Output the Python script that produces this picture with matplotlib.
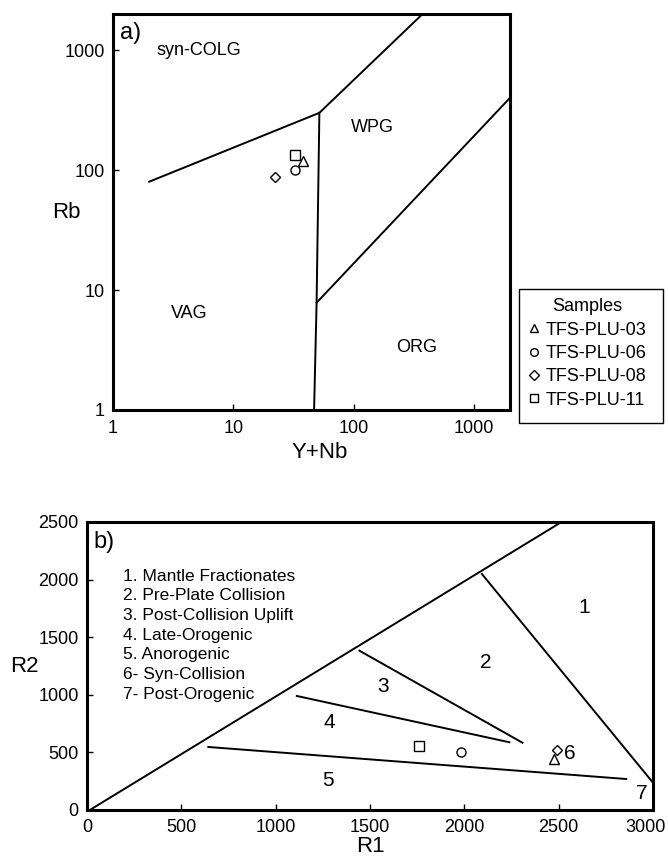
import matplotlib
matplotlib.use('Agg')
import matplotlib.pyplot as plt
import matplotlib.transforms as mtransforms
from matplotlib.patches import Rectangle
from matplotlib.ticker import FixedLocator, NullLocator

plt.rcParams['font.family'] = ['Liberation Sans', 'DejaVu Sans']

# samples, (Y+Nb, Rb) for panel a and (R1, R2) for panel b
samples = ['TFS-PLU-03', 'TFS-PLU-06', 'TFS-PLU-08', 'TFS-PLU-11']
markers = ['^', 'o', 'D', 's']
ynb = [38.2, 32.8, 22.4, 32.8]
rb = [119.6, 101, 88, 133]
r1 = [2474, 1981, 2490, 1762]
r2 = [440, 506, 521, 558]

# Pearce et al. discrimination boundaries (panel a)
pearce_lines = [
    ([2, 52, 375], [80, 300, 2000]),
    ([52, 49.3, 47], [300, 7.84, 1]),
    ([49.3, 2000], [7.84, 400]),
]
pearce_labels = [('syn-COLG', 2.32, 1000, 'left'),
                 ('WPG', 142.6, 228, 'center'),
                 ('VAG', 4.34, 6.43, 'center'),
                 ('ORG', 336.6, 3.29, 'center')]

# Batchelor & Bowden boundaries (panel b)
bb_lines = [
    ([15, 2515], [0, 2500]),
    ([2093, 3000], [2049, 237]),
    ([1444, 2308], [1383, 584]),
    ([1112, 2239], [990, 588]),
    ([643, 2858], [547, 269]),
]
bb_nums = [('1', 2637, 1760), ('2', 2116, 1279), ('3', 1568, 1076),
           ('4', 1283, 761), ('5', 1276, 260), ('6', 2557, 492),
           ('7', 2941, 145)]
bb_key = ['1. Mantle Fractionates', '2. Pre-Plate Collision',
          '3. Post-Collision Uplift', '4. Late-Orogenic', '5. Anorogenic',
          '6- Syn-Collision', '7- Post-Orogenic']

fig = plt.figure(figsize=(6.68, 8.57), dpi=100)

# ---- panel a
ax1 = fig.add_axes([113/668, 1-410/857, 397/668, 396/857])
ax1.set_xscale('log')
ax1.set_yscale('log')
ax1.set_xlim(1, 2000)
ax1.set_ylim(1, 2000)
for xs, ys in pearce_lines:
    ax1.plot(xs, ys, color='black', lw=1.4)
for s, m, x, y in zip(samples, markers, ynb, rb):
    ms = 5.5 if m == 'D' else 6.5
    ax1.plot([x], [y], linestyle='none', marker=m, ms=ms, mfc='white',
             mec='black', mew=1.0)
for txt, x, y, ha in pearce_labels:
    ax1.text(x, y, txt, ha=ha, va='center', fontsize=13)
ax1.text(1.14, 1383, 'a)', ha='left', va='center', fontsize=17)
ticks = [1, 10, 100, 1000]
ax1.xaxis.set_major_locator(FixedLocator(ticks))
ax1.yaxis.set_major_locator(FixedLocator(ticks))
ax1.xaxis.set_minor_locator(NullLocator())
ax1.yaxis.set_minor_locator(NullLocator())
ax1.set_xticklabels([str(t) for t in ticks])
ax1.set_yticklabels([str(t) for t in ticks])
ax1.tick_params(axis='x', direction='in', length=4, width=1, pad=7.5, labelsize=13)
ax1.tick_params(axis='y', direction='in', length=4, width=1, pad=6, labelsize=13)
ax1.set_xlabel('Y+Nb', fontsize=16)
ax1.set_ylabel('Rb', fontsize=16, rotation=0, ha='center', va='center')
ax1.xaxis.set_label_coords(0.52, -0.08)
ax1.yaxis.set_label_coords(-0.118, 0.5)
for sp in ax1.spines.values():
    sp.set_linewidth(2.2)

# legend for the samples, box drawn separately
handles = [plt.Line2D([], [], linestyle='none', marker=m,
                      ms=5 if m == 'D' else 5.5, mfc='white', mec='black',
                      mew=1.0, label=s) for s, m in zip(samples, markers)]
fig.legend(handles=handles, title='Samples', loc='upper left',
           bbox_to_anchor=(523/668, 1-293/857), fontsize=13,
           title_fontsize=13, frameon=False, handlelength=0.6,
           handletextpad=0.35, labelspacing=0.35, borderpad=0.3,
           borderaxespad=0)
fig.patches.append(Rectangle((519/668, 1-423/857), 144/668, 134/857,
                             transform=fig.transFigure, fill=False,
                             edgecolor='black', lw=1.0))

# ---- panel b
ax2 = fig.add_axes([87/668, 1-810/857, 566/668, 288/857])
ax2.set_xlim(0, 3000)
ax2.set_ylim(0, 2500)
for xs, ys in bb_lines:
    ax2.plot(xs, ys, color='black', lw=1.4)
for s, m, x, y in zip(samples, markers, r1, r2):
    ms = 5.5 if m == 'D' else 6.5
    ax2.plot([x], [y], linestyle='none', marker=m, ms=ms, mfc='white',
             mec='black', mew=1.0)
for txt, x, y in bb_nums:
    ax2.text(x, y, txt, ha='center', va='center', fontsize=15)
for i, line in enumerate(bb_key):
    ax2.text(192, 2031 - i*171, line, ha='left', va='center', fontsize=12.5)
ax2.text(33, 2326, 'b)', ha='left', va='center', fontsize=17)
ax2.set_xticks([0, 500, 1000, 1500, 2000, 2500, 3000])
ax2.set_yticks([0, 500, 1000, 1500, 2000, 2500])
ax2.tick_params(axis='x', direction='in', length=4, width=1, pad=6.5, labelsize=13)
ax2.tick_params(axis='y', direction='in', length=4, width=1, pad=6, labelsize=13)
ax2.set_xlabel('R1', fontsize=16)
ax2.set_ylabel('R2', fontsize=16, rotation=0, ha='center', va='center')
ax2.xaxis.set_label_coords(0.5, -0.09)
ax2.yaxis.set_label_coords(-0.111, 0.5)
for sp in ax2.spines.values():
    sp.set_linewidth(2.2)

# keep the last x tick label inside the figure
fig.canvas.draw()
last = ax2.get_xticklabels()[-1]
last.set_transform(last.get_transform() +
                   mtransforms.ScaledTranslation(-0.07, 0, fig.dpi_scale_trans))

fig.savefig('out.png', dpi=100)
